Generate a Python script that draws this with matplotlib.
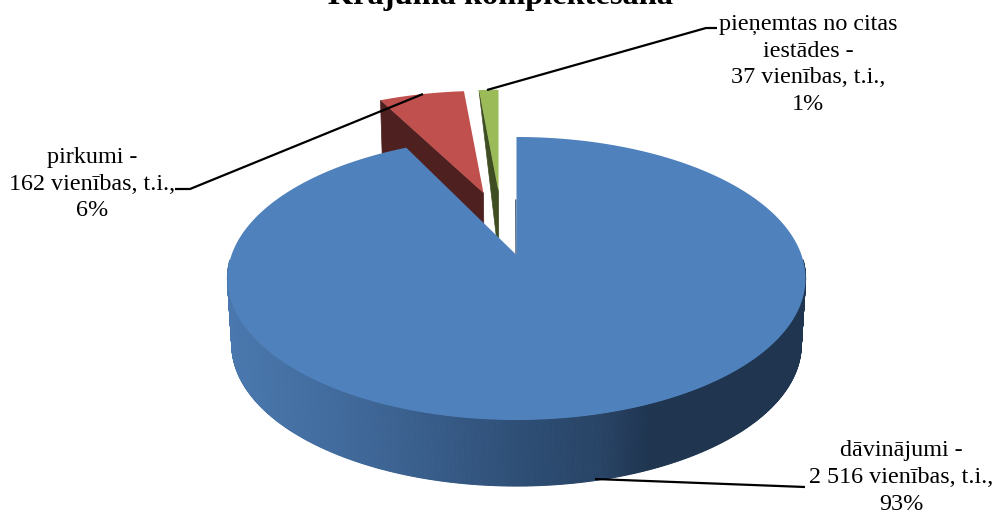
import numpy as np
import matplotlib
matplotlib.use("Agg")
import matplotlib.pyplot as plt
from matplotlib.patches import Polygon

plt.rcParams["font.family"] = ["Liberation Serif", "DejaVu Serif"]

title = "Krājuma komplektēšana"
categories = ["dāvinājumi", "pirkumi", "pieņemtas no citas\niestādes"]
values = [2516, 162, 37]
percents = ["93%", "6%", "1%"]
value_labels = ["2 516", "162", "37"]

C_TOP = ["#4F81BD", "#C0504D", "#9BBB59"]
C_WALL = ["#1F3550", "#4F2020", "#3F4D22"]
CX, APEX_Y = 517.5, 255
DEPTH = 66


# perspective: disc coords (u right, v towards viewer) -> pixels
def top_plane(u, v, dx=0):
    w = 1 - 0.166 * v
    return CX + dx + 285 * u / w, APEX_Y + 137.6 * v / w


def low_plane(u, v, dx=0):
    x, y = top_plane(u, v, dx)
    return CX + (x - CX) * 0.985, y + DEPTH


def rim_point(angle, v0):
    t = np.radians(angle)
    return np.sin(t), v0 - np.cos(t)


def sector(a0, a1, dx, v0, n=200):
    u, v = rim_point(np.linspace(a0, a1, n), v0)
    x, y = top_plane(u, v, dx)
    ax0, ay0 = top_plane(0, v0, dx)
    return np.column_stack([np.r_[ax0, x], np.r_[ay0, y]])


fig = plt.figure(figsize=(9.97, 5.14), dpi=100)
ax = fig.add_axes([0, 0, 1, 1])
ax.set_xlim(0, 997); ax.set_ylim(514, 0); ax.axis("off")

# angles come from the values, clockwise from 12 o'clock
edges = np.r_[0, np.cumsum(values)] / sum(values) * 360
# explosion: screen shift in px, shift along v
explode = [(-1, 0), (-34, -0.487), (-19, -0.5)]

# red wall
dx, v0 = explode[1]
p = rim_point(edges[1], v0)
ax.add_patch(Polygon([top_plane(0, v0, dx), top_plane(*p, dx), low_plane(*p, dx), low_plane(0, v0, dx)],
                     fc=C_WALL[1], ec=C_WALL[1], lw=0.5, zorder=1))
ax.add_patch(Polygon(sector(edges[1], edges[2], dx, v0), fc=C_TOP[1], ec="none", zorder=2))
# green wall
dx, v0 = explode[2]
p = rim_point(edges[2], v0)
ax.add_patch(Polygon([top_plane(0, v0, dx), top_plane(*p, dx), low_plane(0, v0, dx)],
                     fc=C_WALL[2], ec=C_WALL[2], lw=0.5, zorder=1))
ax.add_patch(Polygon(sector(edges[2], edges[3], dx, v0), fc=C_TOP[2], ec="none", zorder=2))

# blue rim, shaded by horizontal position
dx, v0 = explode[0]
grad_x = [228, 330, 430, 520, 600, 650, 806]
grad_c = np.array([[0x4A, 0x78, 0xAE], [0x42, 0x6C, 0x9E], [0x38, 0x5D, 0x8A],
                   [0x2E, 0x4E, 0x75], [0x28, 0x44, 0x66], [0x1F, 0x35, 0x50],
                   [0x1F, 0x35, 0x50]]) / 255
rim = np.linspace(92, 268, 600)
for t0, t1 in zip(rim[:-1], rim[1:]):
    u, v = rim_point(np.array([t0, t1]), v0)
    xt, yt = top_plane(u, v, dx); xb, yb = low_plane(u, v, dx)
    col = [np.interp(xt.mean(), grad_x, grad_c[:, i]) for i in range(3)]
    ax.add_patch(Polygon([(xt[0], yt[0]), (xt[1], yt[1]), (xb[1], yb[1]), (xb[0], yb[0])],
                         fc=col, ec=col, lw=0.8, zorder=3))
# blue top
ax.plot([515.8, 516], [200, 255], color=C_WALL[0], lw=0.8, zorder=3)
ax.add_patch(Polygon(sector(edges[0], edges[1], dx, v0), fc=C_TOP[0], ec="none", zorder=4))

# leaders
for xs, ys in [([595, 805], [479, 487]),
               ([423, 190, 175], [94, 189, 189]),
               ([487, 706, 717], [90, 28, 28])]:
    ax.plot(xs, ys, color="black", lw=1.6, zorder=5, solid_capstyle="butt")

fs = 17.4
pos = [(901, 477.5), (92, 184), (808, 64.5)]
for c, vl, p, (x, y) in zip(categories, value_labels, percents, pos):
    ax.text(x, y, f"{c} -\n{vl} vienības, t.i.,\n{p}", ha="center", va="center",
            fontsize=fs, linespacing=1.36, zorder=6)

ax.text(500, 4, title, ha="center", va="baseline", fontsize=23.3, fontweight="bold",
        clip_on=False)

fig.savefig("out.png", dpi=100)
